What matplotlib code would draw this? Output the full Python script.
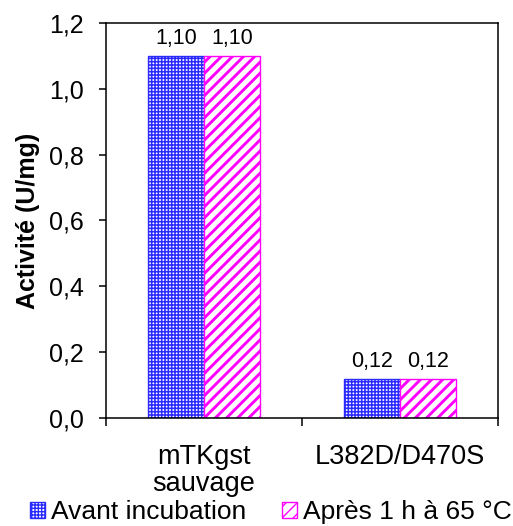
import matplotlib
matplotlib.use("Agg")
import matplotlib.pyplot as plt
import numpy as np
from matplotlib.patches import Patch

plt.rcParams['font.family'] = ['Liberation Sans', 'DejaVu Sans']

categories = ["mTKgst\nsauvage", "L382D/D470S"]
series_names = ["Avant incubation", "Après 1 h à 65 °C"]
avant = [1.10, 0.12]
apres = [1.10, 0.12]
labels_avant = ["1,10", "0,12"]
labels_apres = ["1,10", "0,12"]
yticks = [0.0, 0.2, 0.4, 0.6, 0.8, 1.0, 1.2]
ytick_labels = ["0,0", "0,2", "0,4", "0,6", "0,8", "1,0", "1,2"]

blue = "#2a2aff"
pink = "#ff00ff"
BLUE_LW = 1.1
PINK_LW = 2.1


def set_hlw(patch, lw):
    if hasattr(patch, "set_hatch_linewidth"):
        patch.set_hatch_linewidth(lw)
    else:
        patch._hatch_linewidth = lw


fig = plt.figure(figsize=(5.13, 5.26), dpi=100)
ax = fig.add_axes([0.2066, 0.2053, 0.7642, 0.751])

x = np.arange(len(categories))
w = 0.285

b1 = ax.bar(x - w / 2, avant, w, color="white", edgecolor=blue, hatch="+++++", linewidth=0)
for p in b1:
    set_hlw(p, BLUE_LW)
ax.bar(x - w / 2, avant, w, fill=False, edgecolor=blue, linewidth=1.0)

b2 = ax.bar(x + w / 2, apres, w, color="white", edgecolor=pink, hatch="///", linewidth=0)
for p in b2:
    set_hlw(p, PINK_LW)
ax.bar(x + w / 2, apres, w, fill=False, edgecolor=pink, linewidth=1.0)

for xi, v, lab in zip(x - w / 2, avant, labels_avant):
    ax.text(xi, v + 0.02, lab, ha="center", va="bottom", fontsize=15.5)
for xi, v, lab in zip(x + w / 2, apres, labels_apres):
    ax.text(xi, v + 0.02, lab, ha="center", va="bottom", fontsize=15.5)

ax.set_xlim(-0.5, 1.5)
ax.set_ylim(0, 1.2)
ax.set_yticks(yticks)
ax.set_yticklabels(ytick_labels, fontsize=18)
ax.set_xticks([-0.5, 0.5, 1.5])
ax.set_xticklabels([])
ax.set_xticks(x, minor=True)
ax.set_xticklabels(categories, minor=True, fontsize=19.5, linespacing=1.02)
ax.tick_params(axis="x", which="minor", length=0, pad=19)
ax.tick_params(axis="x", which="major", direction="out", length=6, width=1.1)
ax.tick_params(axis="y", direction="out", length=5, width=1.1, pad=11)
for s in ax.spines.values():
    s.set_linewidth(1.1)

ax.set_ylabel("Activité (U/mg)", fontsize=18, fontweight="bold")
ax.yaxis.set_label_coords(-0.168, 0.5)

h1 = Patch(facecolor="white", edgecolor=blue, hatch="+++++", label=series_names[0])
set_hlw(h1, BLUE_LW)
h2 = Patch(facecolor="white", edgecolor=pink, hatch="///", label=series_names[1])
set_hlw(h2, PINK_LW)
leg = fig.legend(handles=[h1, h2], loc="lower left", bbox_to_anchor=(30 / 513, 0.004), ncol=2,
                 frameon=False, fontsize=19, handlelength=0.55, handleheight=0.55,
                 handletextpad=0.25, columnspacing=1.35, borderpad=0, borderaxespad=0)

fig.savefig("out.png", dpi=100)
